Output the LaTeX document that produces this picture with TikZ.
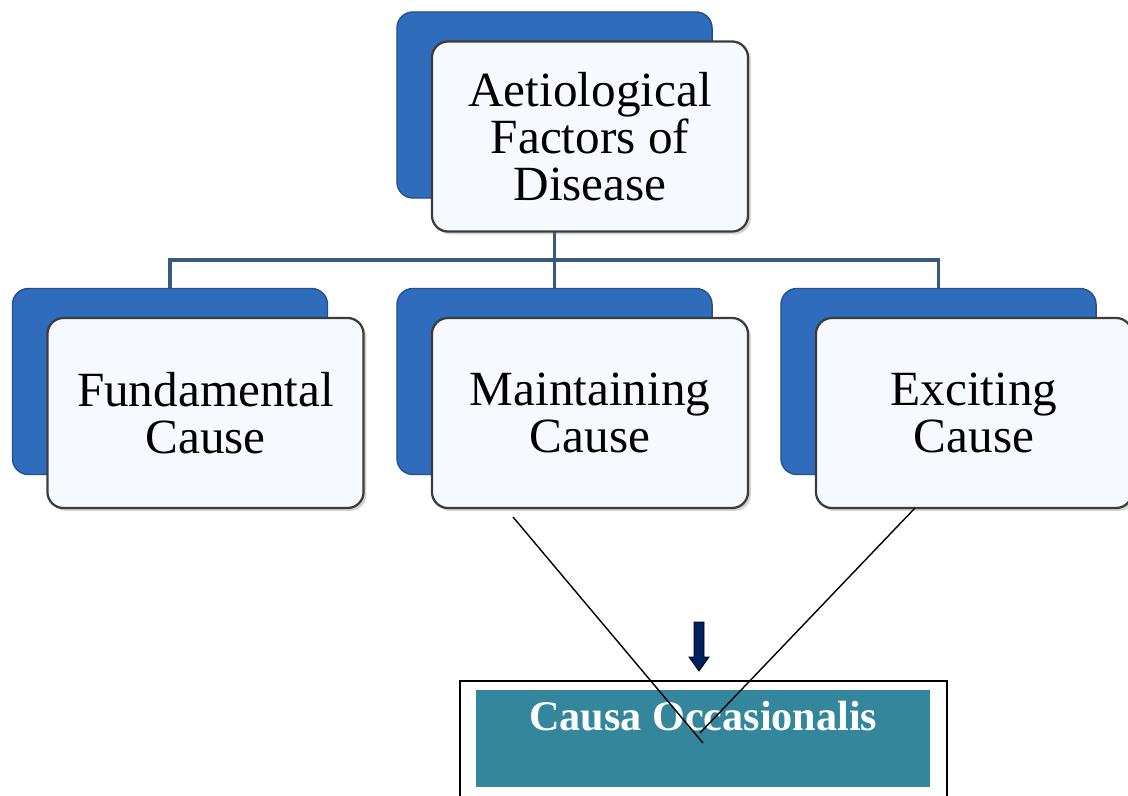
\documentclass[tikz,border=0pt]{standalone}
\usepackage{fontspec}
\setmainfont{Liberation Serif}
\usetikzlibrary{positioning,backgrounds,shadows}
\definecolor{backblue}{RGB}{48,108,188}
\definecolor{backedge}{RGB}{35,80,145}
\definecolor{frontfill}{RGB}{246,249,253}
\definecolor{frontedge}{RGB}{60,60,60}
\definecolor{linkblue}{RGB}{55,90,125}
\definecolor{occteal}{RGB}{52,134,156}
\definecolor{arrownavy}{RGB}{0,32,96}

\begin{document}
\begin{tikzpicture}[x=0.025cm, y=-0.025cm,
    back/.style={draw=backedge, line width=1pt, fill=backblue, rounded corners=0.4cm,
      minimum width=7.875cm, minimum height=4.65cm},
    front/.style={draw=frontedge, line width=1.6pt, fill=frontfill, rounded corners=0.4cm,
      minimum width=7.9cm, minimum height=4.75cm, align=center,
      font=\fontsize{35}{33.5}\selectfont,
      drop shadow={shadow xshift=2pt, shadow yshift=-2pt, opacity=0.35}},
    link/.style={draw=linkblue, line width=2.6pt},
    cross/.style={draw=black, line width=1pt}]
    \useasboundingbox (0,0) rectangle (1128,795);

    \node [back] (top_back) at (554.5,105) {};
    \path (top_back) ++ (35.5,31.5) node [front] (top_front) {Aetiological\\Factors of\\Disease};
    \node [back] (fund_back) at (170,381.5) {};
    \path (fund_back) ++ (35.5,31.5) node [front] (fund_front) {Fundamental\\Cause};
    \node [back] (maint_back) at (554.5,381.5) {};
    \path (maint_back) ++ (35.5,31.5) node [front] (maint_front) {Maintaining\\Cause};
    \node [back] (exc_back) at (938.5,381.5) {};
    \path (exc_back) ++ (35.5,31.5) node [front] (exc_front) {Exciting\\Cause};

    \begin{scope}[on background layer]
      \coordinate (bus) at (554.5,260);
      \draw [link] (top_back.south) -- (bus);
      \draw [link] (fund_back.north) |- (bus);
      \draw [link] (exc_back.north) |- (bus);
      \draw [link] (maint_back.north) -- (bus);
    \end{scope}

    \node [draw, line width=1.2pt, anchor=north west, minimum width=12.175cm,
      minimum height=3.5cm] (occ_frame) at (459,680) {};
    \node [fill=occteal, anchor=north west, minimum width=11.35cm, inner sep=0pt,
      text height=1cm, text depth=1.425cm, text=white,
      font=\bfseries\fontsize{30}{36}\selectfont] (occ) at (476,690) {Causa Occasionalis};

    \draw [fill=arrownavy, line width=0.6pt] (694,622) -- (704,622) -- (704,657) -- (709,657)
      -- (699,671) -- (689,657) -- (694,657) -- cycle;

    \coordinate (diag_a1) at (513,517);
    \coordinate (diag_a2) at (703,743);
    \coordinate (diag_b1) at (915,508);
    \coordinate (diag_b2) at (700,733);
    \draw [cross] (diag_a1) -- (diag_a2);
    \draw [cross] (diag_b1) -- (diag_b2);
  \end{tikzpicture}
\end{document}
